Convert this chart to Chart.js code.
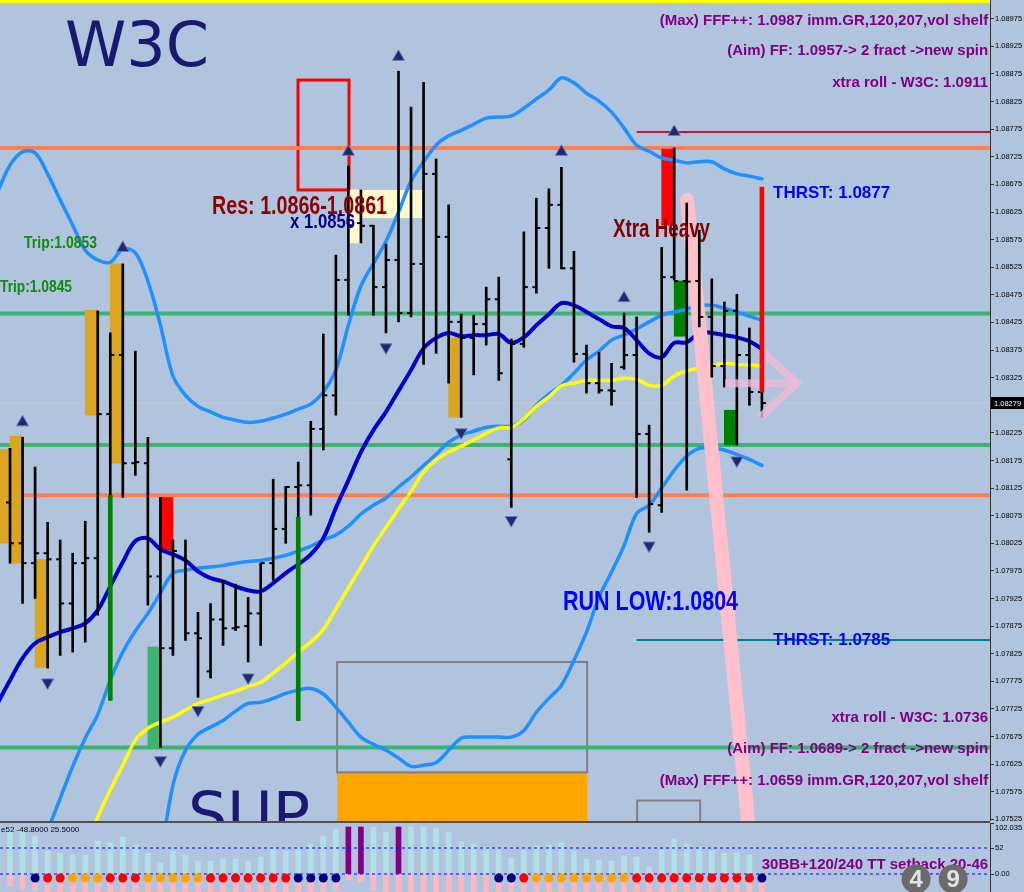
<!DOCTYPE html>
<html>
<head>
<meta charset="utf-8">
<title>W3C chart</title>
<script src="https://cdn.jsdelivr.net/npm/chart.js@4.4.1/dist/chart.umd.min.js"></script>
<style>
  html, body { margin: 0; padding: 0; background: #b0c4de; }
  #wrap { position: relative; width: 1024px; height: 892px; overflow: hidden; background: #b0c4de; }
  canvas { position: absolute; left: 0; }
  #main { top: 0; }
  #sub { top: 823px; }
  #sep { position: absolute; left: 0; top: 821px; width: 990px; height: 2px; background: #505050; }
  #topline { position: absolute; left: 0; top: 0; width: 990px; height: 3px; background: #ffff00; }
</style>
</head>
<body>
<div id="wrap">
  <canvas id="main" width="1024" height="821"></canvas>
  <div id="sep"></div>
  <canvas id="sub" width="1024" height="69"></canvas>
  <div id="topline"></div>
</div>
<script>
// every per-bar array starts at bar -1 (the one cut by the left edge)
const firstBar = -1;

const highs = [null, 1.08197, 1.08217, 1.08163, 1.08063, 1.08031, 1.08007, 1.08065, 1.08446, 1.08406, 1.08531,
  1.08373, 1.08217, 1.08108, 1.08031, 1.08031, 1.07900, 1.07916, 1.07958, 1.07951, 1.07927,
  1.07989, 1.08141, 1.08128, 1.08172, 1.08246, 1.08404, 1.08547, 1.08708, 1.08665, 1.08601,
  1.08567, 1.08880, 1.08815, 1.08860, 1.08721, 1.08638, 1.08440, 1.08438, 1.08489, 1.08507,
  1.08395, 1.08589, 1.08650, 1.08667, 1.08706, 1.08554, 1.08384, 1.08371, 1.08351, 1.08442,
  1.08435, 1.08239, 1.08561, 1.08741, 1.08641, 1.08592, 1.08504, 1.08462, 1.08476, 1.08415, 1.08299];
const lows = [null, 1.07989, 1.07916, 1.07925, 1.07799, 1.07822, 1.07828, 1.07846, 1.07895, 1.07741, 1.08108,
  1.08148, 1.07913, 1.07655, 1.07822, 1.07849, 1.07746, 1.07781, 1.07840, 1.07867, 1.07810,
  1.07840, 1.07958, 1.08025, 1.07704, 1.08076, 1.08194, 1.08257, 1.08438, 1.08569, 1.08438,
  1.08406, 1.08426, 1.08435, 1.08349, 1.08369, 1.08315, 1.08253, 1.08330, 1.08384, 1.08320,
  1.08090, 1.08380, 1.08478, 1.08523, 1.08522, 1.08353, 1.08297, 1.08297, 1.08275, 1.08340,
  1.08108, 1.08045, 1.08081, 1.08502, 1.08121, 1.08417, 1.08326, 1.08308, 1.08203, 1.08275, 1.08253];
const opens = [null, 1.08099, 1.08025, 1.07989, 1.08007, 1.07996, 1.07916, 1.07989, 1.07998, 1.08259, 1.08366,
  1.08170, 1.08170, 1.07965, 1.07835, 1.07996, 1.07862, 1.07793, 1.07887, 1.07871, 1.07875,
  1.07898, 1.07989, 1.08051, 1.08127, 1.08130, 1.08232, 1.08293, 1.08502, 1.08605, 1.08600,
  1.08489, 1.08538, 1.08442, 1.08531, 1.08694, 1.08580, 1.08426, 1.08397, 1.08422, 1.08467,
  1.08177, 1.08386, 1.08489, 1.08596, 1.08638, 1.08523, 1.08368, 1.08315, 1.08302, 1.08344,
  1.08366, 1.08223, 1.08094, 1.08507, 1.08500, 1.08500, 1.08435, 1.08346, 1.08446, 1.08366, 1.08299];
const closes = [null, 1.08025, 1.07989, 1.08007, 1.07996, 1.07916, 1.07989, 1.07998, 1.08259, 1.08366, 1.08170,
  1.08172, 1.07965, 1.07835, 1.08011, 1.07862, 1.07853, 1.07887, 1.07871, 1.07873, 1.07898,
  1.07989, 1.08051, 1.08127, 1.08130, 1.08232, 1.08293, 1.08502, 1.08601, 1.08600, 1.08489,
  1.08538, 1.08442, 1.08531, 1.08694, 1.08580, 1.08426, 1.08397, 1.08422, 1.08467, 1.08333,
  1.08386, 1.08489, 1.08596, 1.08638, 1.08523, 1.08368, 1.08315, 1.08302, 1.08301, 1.08366,
  1.08223, 1.08096, 1.08507, 1.08500, 1.08499, 1.08435, 1.08346, 1.08446, 1.08366, 1.08299, 1.08279];

// bands and averages
const bandUpper = [1.08661, 1.08710, 1.08734, 1.08732, 1.08694, 1.08647, 1.08601, 1.08556, 1.08538, 1.08534, 1.08558,
  1.08551, 1.08500, 1.08420, 1.08328, 1.08293, 1.08273, 1.08263, 1.08253, 1.08248, 1.08244,
  1.08246, 1.08252, 1.08259, 1.08268, 1.08277, 1.08299, 1.08339, 1.08420, 1.08491, 1.08532,
  1.08572, 1.08625, 1.08681, 1.08716, 1.08746, 1.08763, 1.08773, 1.08784, 1.08795, 1.08797,
  1.08799, 1.08813, 1.08830, 1.08846, 1.08868, 1.08859, 1.08840, 1.08826, 1.08806, 1.08777,
  1.08746, 1.08735, 1.08723, 1.08719, 1.08714, 1.08716, 1.08716, 1.08703, 1.08694, 1.08690, 1.08685];
const bandMid = [null, null, null, 1.07451, 1.07505, 1.07563, 1.07621, 1.07672, 1.07715, 1.07777, 1.07828,
  1.07866, 1.07898, 1.07935, 1.07971, 1.07976, 1.07980, 1.07982, 1.07985, 1.07989, 1.07992,
  1.07994, 1.07998, 1.08003, 1.08011, 1.08020, 1.08031, 1.08040, 1.08056, 1.08078, 1.08094,
  1.08107, 1.08127, 1.08145, 1.08166, 1.08186, 1.08208, 1.08221, 1.08228, 1.08235, 1.08237,
  1.08237, 1.08248, 1.08275, 1.08295, 1.08311, 1.08333, 1.08357, 1.08373, 1.08393, 1.08402,
  1.08413, 1.08426, 1.08438, 1.08444, 1.08449, 1.08456, 1.08456, 1.08451, 1.08444, 1.08436, 1.08429];
const bandLower = [null, null, null, null, null, null, null, null, null, null, null,
  null, null, 1.07451, 1.07587, 1.07650, 1.07679, 1.07692, 1.07704, 1.07721, 1.07735,
  1.07737, 1.07744, 1.07753, 1.07759, 1.07762, 1.07752, 1.07728, 1.07701, 1.07674, 1.07661,
  1.07650, 1.07636, 1.07621, 1.07623, 1.07628, 1.07650, 1.07672, 1.07674, 1.07674, 1.07674,
  1.07674, 1.07686, 1.07719, 1.07744, 1.07768, 1.07813, 1.07864, 1.07927, 1.07973, 1.08021,
  1.08079, 1.08094, 1.08125, 1.08157, 1.08183, 1.08197, 1.08197, 1.08194, 1.08186, 1.08177, 1.08166];
const maBlue = [1.07735, 1.07777, 1.07817, 1.07844, 1.07855, 1.07864, 1.07871, 1.07880, 1.07904, 1.07947, 1.07991,
  1.08029, 1.08034, 1.08014, 1.08005, 1.07994, 1.07974, 1.07962, 1.07956, 1.07947, 1.07940,
  1.07938, 1.07953, 1.07971, 1.07987, 1.08005, 1.08034, 1.08089, 1.08139, 1.08190, 1.08230,
  1.08263, 1.08301, 1.08339, 1.08378, 1.08397, 1.08406, 1.08400, 1.08402, 1.08402, 1.08404,
  1.08388, 1.08398, 1.08420, 1.08440, 1.08460, 1.08456, 1.08444, 1.08431, 1.08418, 1.08415,
  1.08393, 1.08369, 1.08362, 1.08388, 1.08389, 1.08406, 1.08406, 1.08402, 1.08398, 1.08391, 1.08377];
const maYellow = [null, null, null, null, null, null, null, 1.07469, 1.07529, 1.07578, 1.07623,
  1.07668, 1.07690, 1.07701, 1.07710, 1.07723, 1.07735, 1.07742, 1.07750, 1.07757, 1.07766,
  1.07773, 1.07790, 1.07808, 1.07828, 1.07846, 1.07869, 1.07906, 1.07944, 1.07982, 1.08020,
  1.08054, 1.08087, 1.08119, 1.08154, 1.08176, 1.08190, 1.08201, 1.08212, 1.08224, 1.08234,
  1.08235, 1.08250, 1.08273, 1.08290, 1.08310, 1.08315, 1.08320, 1.08320, 1.08320, 1.08324,
  1.08322, 1.08311, 1.08311, 1.08328, 1.08337, 1.08342, 1.08346, 1.08351, 1.08349, 1.08348, 1.08346];

// coloured volume blocks and spikes
const blockX = [-0.5, 0.5, 2.5, 6.5, 8.5, 11.5, 12.5, 27.5, 35.5, 52.5, 53.5, 57.5];
const blockTop = [1.08195, 1.08219, 1.07996, 1.08447, 1.08531, 1.07837, 1.08108, 1.08665, 1.08397, 1.08739, 1.08500, 1.08266];
const blockBottom = [1.08025, 1.07989, 1.07800, 1.08257, 1.08170, 1.07655, 1.08012, 1.08569, 1.08253, 1.08601, 1.08400, 1.08203];
const blockKind = ['gold', 'gold', 'gold', 'gold', 'gold', 'sea', 'red', 'cream', 'gold', 'red', 'green', 'green'];
const spikeX = [8, 23, 60];
const spikeTop = [1.08112, 1.08072, 1.08670];
const spikeBottom = [1.07741, 1.07704, 1.08299];
const spikeKind = ['green', 'green', 'red'];

// levels
const coralLevels = [1.08741, 1.08112];
const seaLevels = [1.08441, 1.08203, 1.07655];
const thrustLevels = [1.0877, 1.0785];
const thrustFrom = 50;

// fractals
const upFracX = [1, 9, 27, 31, 44, 49, 53];
const upFracY = [1.08244, 1.08560, 1.08734, 1.08906, 1.08734, 1.08469, 1.08770];
const downFracX = [3, 12, 15, 19, 30, 36, 40, 51, 58];
const downFracY = [1.07773, 1.07632, 1.07723, 1.07782, 1.08380, 1.08226, 1.08067, 1.08021, 1.08175];

// pink trend stroke and the arrow
const trendX = [54.03, 59.2];
const trendY = [1.08647, 1.07451];
const shaftX = [57.07, 62.8];
const shaftY = [1.08315, 1.08315];
const headX = [59.86, 62.8, 59.86];
const headY = [1.08375, 1.08315, 1.08253];

const priceTicks = [1.07525, 1.07575, 1.07625, 1.07675, 1.07725, 1.07775, 1.07825, 1.07875, 1.07925, 1.07975,
  1.08025, 1.08075, 1.08125, 1.08175, 1.08225, 1.08275, 1.08325, 1.08375, 1.08425, 1.08475,
  1.08525, 1.08575, 1.08625, 1.08675, 1.08725, 1.08775, 1.08825, 1.08875, 1.08925, 1.08975];

// lower panel
const histCyan = [90, 92, 88, 76, 46, 42, 38, 38, 66, 62, 74, 58, 42, 22, 46, 38, 26, 26, 30, 30, 26,
  34, 50, 46, 50, 60, 76, 90, null, null, 94, 84, null, 94, 94, 92, 84, 64, 60, 54, 50,
  32, 48, 56, 58, 62, 46, 30, 28, 26, 36, 34, 14, 48, 70, 60, 54, 46, 42, 42, 38, null];
const histPurple = [null, null, null, null, null, null, null, null, null, null, null, null, null, null, null, null, null, null, null, null, null,
  null, null, null, null, null, null, null, 94, 94, null, null, 94, null, null, null, null, null, null, null, null,
  null, null, null, null, null, null, null, null, null, null, null, null, null, null, null, null, null, null, null, null, null];
const histPink = [-22, -24, -30, -32, -40, -40, -40, -40, -40, -40, -40, -40, -40, -40, -40, -40, -40, -40, -40, -40, -40,
  -40, -40, -40, -40, -40, -40, -30, -12, -16, -32, -40, -40, -40, -40, -40, -40, -40, -40, -40, -40,
  -40, -40, -40, -40, -40, -40, -40, -40, -40, -40, -40, -40, -40, -40, -40, -40, -40, -40, -40, -40, -40];
const dotKind = ['', '', '', 'n', 'r', 'r', 'o', 'o', 'o', 'r', 'r', 'r', 'o', 'o', 'o', 'o', 'o',
  'r', 'r', 'r', 'r', 'r', 'r', 'r', 'n', 'n', 'n', 'n', '', '', '', '', '', '', '', '', '', '', '', '',
  'n', 'n', 'r', 'o', 'o', 'o', 'o', 'o', 'o', 'o', 'o', 'r', 'r', 'r', 'r', 'r', 'r', 'r', 'r', 'r', 'r', 'n'];
const dotLevel = -8;
const subLines = [52, 0];
const subTicks = [0, 52, 102.035];
const subTickLabels = ['0.00', '52', '102.035'];

const X_MIN = -0.8, X_MAX = 78.2;
const SUB_MAX = 102.035;
const barNo = highs.map((_, k) => k + firstBar);
const lastPrice = closes[closes.length - 1];

const blockColors = { gold: '#daa520', sea: '#3cb371', red: '#ff0000', cream: '#fffacd', green: '#008000' };
const dotColors = { n: '#000080', r: '#ff0000', o: '#ffa500' };

function pts(xs, ys, dx) {
    return ys.map((y, k) => ({ x: xs[k] + (dx || 0), y: y })).filter(p => p.y !== null);
}
function ranges(xs, tops, bottoms) {
    return tops.map((t, k) => (t === null ? null : { x: xs[k], y: [bottoms[k], t] })).filter(Boolean);
}
function flatLine(level, from, color, width, order, dash) {
    return {
        type: 'line', data: [{ x: from, y: level }, { x: X_MAX, y: level }],
        borderColor: color, borderWidth: width, pointRadius: 0, order: order, borderDash: dash || []
    };
}
function curve(values, color, width, order) {
    return {
        type: 'line', data: pts(barNo, values), borderColor: color, borderWidth: width,
        pointRadius: 0, tension: 0.35, order: order, borderJoinStyle: 'round', borderCapStyle: 'round'
    };
}

// boxes and labels drawn with the chart scales
const boxes = [
    { x0: 27.05, x1: 32.9, y0: 1.08665, y1: 1.08614, fill: '#fffacd' },
    { x0: 26.1, x1: 46.05, y0: 1.07610, y1: 1.07480, fill: '#ffa500' },
    { x0: 22.98, x1: 27.05, y0: 1.08864, y1: 1.08665, stroke: '#ff0000', lw: 3 },
    { x0: 26.1, x1: 46.05, y0: 1.07810, y1: 1.07610, stroke: '#808080', lw: 2 },
    { x0: 50.04, x1: 55.07, y0: 1.07559, y1: 1.07480, stroke: '#808080', lw: 2 }
];
// w = width the condensed labels are squeezed to
const notes = [
    { t: 'W3C', x: 4.39, y: 1.08889, font: '62px "DejaVu Sans"', c: '#191970', a: 'left' },
    { t: 'SUP', x: 14.2, y: 1.07494, font: '62px "DejaVu Sans"', c: '#191970', a: 'left' },
    { t: '(Max) FFF++: 1.0987 imm.GR,120,207,vol shelf', x: 78.05, y: 1.08964, font: 'bold 15px "Liberation Sans"', c: '#800080', a: 'right' },
    { t: '(Aim) FF: 1.0957-> 2 fract ->new spin', x: 78.05, y: 1.08909, font: 'bold 15px "Liberation Sans"', c: '#800080', a: 'right' },
    { t: 'xtra roll - W3C: 1.0911', x: 78.05, y: 1.08851, font: 'bold 15px "Liberation Sans"', c: '#800080', a: 'right' },
    { t: 'xtra roll - W3C: 1.0736', x: 78.05, y: 1.07701, font: 'bold 15px "Liberation Sans"', c: '#800080', a: 'right' },
    { t: '(Aim) FF: 1.0689-> 2 fract ->new spin', x: 78.05, y: 1.07645, font: 'bold 15px "Liberation Sans"', c: '#800080', a: 'right' },
    { t: '(Max) FFF++: 1.0659 imm.GR,120,207,vol shelf', x: 78.05, y: 1.07587, font: 'bold 15px "Liberation Sans"', c: '#800080', a: 'right' },
    { t: 'THRST: 1.0877', x: 60.89, y: 1.08650, font: 'bold 17px "Liberation Sans"', c: '#0000ff', a: 'left' },
    { t: 'THRST: 1.0785', x: 60.89, y: 1.07840, font: 'bold 17px "Liberation Sans"', c: '#0000ff', a: 'left' },
    { t: 'Res: 1.0866-1.0861', x: 16.12, y: 1.08621, font: 'bold 25px "Liberation Sans"', c: '#8b0000', a: 'left', w: 175 },
    { t: 'x 1.0856', x: 22.35, y: 1.08596, font: 'bold 21px "Liberation Sans"', c: '#00008b', a: 'left', w: 65 },
    { t: 'Trip:1.0853', x: 1.12, y: 1.08560, font: 'bold 17px "Liberation Sans"', c: '#108a10', a: 'left', w: 73 },
    { t: 'Trip:1.0845', x: -0.8, y: 1.08480, font: 'bold 17px "Liberation Sans"', c: '#108a10', a: 'left', w: 72 },
    { t: 'Xtra Heavy', x: 48.12, y: 1.08580, font: 'bold 25px "Liberation Sans"', c: '#800000', a: 'left', w: 97 },
    { t: 'RUN LOW:1.0804', x: 44.13, y: 1.07904, font: 'bold 28px "Liberation Sans"', c: '#0000ff', a: 'left', w: 175 }
];

const mainDecor = {
    id: 'mainDecor',
    beforeDatasetsDraw(chart) {
        const { ctx, scales: { x, y } } = chart;
        ctx.save();
        boxes.forEach(b => {
            const l = x.getPixelForValue(b.x0), r = x.getPixelForValue(b.x1);
            const t = y.getPixelForValue(b.y0), btm = y.getPixelForValue(b.y1);
            if (b.fill) { ctx.fillStyle = b.fill; ctx.fillRect(l, t, r - l, btm - t); }
            if (b.stroke) { ctx.strokeStyle = b.stroke; ctx.lineWidth = b.lw; ctx.strokeRect(l, t, r - l, btm - t); }
        });
        ctx.restore();
    },
    afterDatasetsDraw(chart) {
        const { ctx, scales: { x, y } } = chart;
        notes.forEach(n => {
            ctx.save();
            ctx.textBaseline = 'alphabetic';
            ctx.font = n.font;
            ctx.fillStyle = n.c;
            ctx.textAlign = n.a;
            const px = x.getPixelForValue(n.x), py = y.getPixelForValue(n.y);
            if (n.w) {
                // condensed face: squeeze horizontally
                const sx = n.w / ctx.measureText(n.t).width;
                ctx.translate(px, py);
                ctx.scale(sx, 1);
                ctx.fillText(n.t, 0, 0);
            } else {
                ctx.fillText(n.t, px, py);
            }
            ctx.restore();
        });
    },
    afterDraw(chart) {
        const { ctx, scales: { y } } = chart;
        const py = Math.round(y.getPixelForValue(lastPrice));
        ctx.save();
        ctx.fillStyle = '#000';
        ctx.fillRect(991, py - 6, 33, 12);
        ctx.fillStyle = '#fff';
        ctx.font = '7.5px "Liberation Sans"';
        ctx.textAlign = 'left';
        ctx.textBaseline = 'middle';
        ctx.fillText(lastPrice.toFixed(5), 994, py + 0.5);
        ctx.restore();
    }
};

const mainSets = [];
coralLevels.forEach(v => mainSets.push(flatLine(v, X_MIN, '#ff7f50', 4, 100)));
seaLevels.forEach(v => mainSets.push(flatLine(v, X_MIN, '#3cb371', 4, 100)));
mainSets.push(flatLine(thrustLevels[0], thrustFrom, '#c8143c', 2, 99));
mainSets.push(flatLine(thrustLevels[1], thrustFrom, '#00808f', 2, 99));
mainSets.push(flatLine(lastPrice, X_MIN, 'rgba(205,205,205,0.8)', 1, 98));
mainSets.push({
    type: 'bar', data: ranges(blockX, blockTop, blockBottom),
    backgroundColor: blockKind.map(k => blockColors[k]), barThickness: 12.5, grouped: false, order: 80
});
mainSets.push(curve(bandUpper, '#1e90ff', 3.5, 62));
mainSets.push(curve(bandMid, '#1e90ff', 3.5, 62));
mainSets.push(curve(bandLower, '#1e90ff', 3.5, 62));
mainSets.push(curve(maYellow, '#ffff00', 3.5, 61));
mainSets.push(curve(maBlue, '#0000cd', 4, 60));
mainSets.push({
    type: 'line', data: pts(trendX, trendY), borderColor: '#ffc0cb', borderWidth: 14,
    borderCapStyle: 'round', pointRadius: 0, order: 55
});
mainSets.push({
    type: 'bar', data: ranges(barNo, highs, lows), backgroundColor: '#000',
    barThickness: 2, grouped: false, order: 50
});
mainSets.push({
    type: 'line', data: pts(barNo, opens, -0.16), showLine: false, pointStyle: 'line',
    pointRadius: 2, pointBorderWidth: 2, pointBorderColor: '#000', order: 49
});
mainSets.push({
    type: 'line', data: pts(barNo, closes, 0.16), showLine: false, pointStyle: 'line',
    pointRadius: 2, pointBorderWidth: 2, pointBorderColor: '#000', order: 49
});
mainSets.push({
    type: 'line', data: pts(shaftX, shaftY), borderColor: 'rgba(236,186,216,0.8)', borderWidth: 8,
    pointRadius: 0, order: 46
});
mainSets.push({
    type: 'line', data: pts(headX, headY), borderColor: 'rgba(236,186,216,0.8)', borderWidth: 8,
    pointRadius: 0, order: 46
});
mainSets.push({
    type: 'bar', data: ranges(spikeX, spikeTop, spikeBottom),
    backgroundColor: spikeKind.map(k => blockColors[k]), barThickness: 4, grouped: false, order: 45
});
mainSets.push({
    type: 'line', data: pts(upFracX, upFracY), showLine: false, pointStyle: 'triangle', pointRadius: 7,
    pointBackgroundColor: '#1f2a6b', pointBorderColor: '#6c78b8', pointBorderWidth: 1, order: 40
});
mainSets.push({
    type: 'line', data: pts(downFracX, downFracY), showLine: false, pointStyle: 'triangle', pointRadius: 7,
    pointRotation: 180, pointBackgroundColor: '#1f2a6b', pointBorderColor: '#6c78b8', pointBorderWidth: 1, order: 40
});

const xAxis = { type: 'linear', display: false, min: X_MIN, max: X_MAX, offset: false, grid: { offset: false } };

new Chart(document.getElementById('main').getContext('2d'), {
    type: 'line',
    data: { datasets: mainSets },
    options: {
        responsive: false, animation: false, devicePixelRatio: 1, events: [],
        layout: { padding: 0, autoPadding: false },
        plugins: { legend: { display: false }, tooltip: { enabled: false } },
        scales: {
            x: xAxis,
            y: {
                position: 'right', min: 1.07522, max: 1.09009,
                afterBuildTicks: ax => { ax.ticks = priceTicks.map(v => ({ value: v })); },
                afterFit: ax => { ax.width = 34; ax.paddingTop = 0; ax.paddingBottom = 0; },
                ticks: { callback: v => v.toFixed(5), font: { family: 'Liberation Sans', size: 7.5 }, color: '#000', padding: 1 },
                grid: { drawOnChartArea: false, drawTicks: true, tickLength: 4, color: '#333' },
                border: { display: true, color: '#333', width: 1 }
            }
        }
    },
    plugins: [mainDecor]
});

// lower oscillator panel
const subDecor = {
    id: 'subDecor',
    afterDatasetsDraw(chart) {
        const { ctx, scales: { x, y } } = chart;
        ctx.save();
        ctx.font = '8px "Liberation Sans"';
        ctx.fillStyle = '#000';
        ctx.textAlign = 'left';
        ctx.textBaseline = 'alphabetic';
        ctx.fillText('e52 -48.8000 25.5000', x.getPixelForValue(X_MIN) + 1, y.getPixelForValue(84));
        ctx.font = 'bold 15px "Liberation Sans"';
        ctx.fillStyle = '#800080';
        ctx.textAlign = 'right';
        ctx.fillText('30BB+120/240 TT setback 20-46', x.getPixelForValue(78.05), y.getPixelForValue(10));
        [['4', 72.3], ['9', 75.26]].forEach(([d, bx]) => {
            const cx = x.getPixelForValue(bx), cy = y.getPixelForValue(-10);
            ctx.beginPath();
            ctx.arc(cx, cy, 14.5, 0, Math.PI * 2);
            ctx.fillStyle = '#6b6b6b';
            ctx.fill();
            ctx.font = 'bold 24px "Liberation Sans"';
            ctx.fillStyle = '#e4e4e4';
            ctx.textAlign = 'center';
            ctx.textBaseline = 'middle';
            ctx.fillText(d, cx, cy + 1);
        });
        ctx.restore();
    },
    afterDraw(chart) {
        // top value sits just under its tick, as the terminal prints it
        const { ctx, scales: { y } } = chart;
        ctx.save();
        ctx.font = '7.5px "Liberation Sans"';
        ctx.fillStyle = '#000';
        ctx.textAlign = 'left';
        ctx.textBaseline = 'top';
        ctx.fillText(subTickLabels[subTicks.indexOf(SUB_MAX)], y.left + 5, y.getPixelForValue(SUB_MAX) + 1);
        ctx.restore();
    }
};

const subSets = [
    { type: 'bar', data: pts(barNo, histPink), backgroundColor: '#ffb6c1', barThickness: 5, grouped: false, order: 10 },
    { type: 'bar', data: pts(barNo, histCyan), backgroundColor: '#b0e0e6', barThickness: 5, grouped: false, order: 9 },
    { type: 'bar', data: pts(barNo, histPurple), backgroundColor: '#800080', barThickness: 5, grouped: false, order: 8 }
];
subLines.forEach(v => subSets.push(flatLine(v, X_MIN, '#0000ff', 1, 5, [3, 3])));
const dotPts = barNo.map((b, k) => ({ x: b, y: dotKind[k] ? dotLevel : null, c: dotColors[dotKind[k]] })).filter(p => p.y !== null);
subSets.push({
    type: 'line', data: dotPts, showLine: false, pointRadius: 4.5, pointBorderWidth: 0,
    pointBackgroundColor: dotPts.map(p => p.c), order: 1
});

new Chart(document.getElementById('sub').getContext('2d'), {
    type: 'line',
    data: { datasets: subSets },
    options: {
        responsive: false, animation: false, devicePixelRatio: 1, events: [],
        layout: { padding: 0, autoPadding: false },
        plugins: { legend: { display: false }, tooltip: { enabled: false } },
        scales: {
            x: xAxis,
            y: {
                position: 'right', min: -36, max: SUB_MAX,
                afterBuildTicks: ax => { ax.ticks = subTicks.map(v => ({ value: v })); },
                afterFit: ax => { ax.width = 34; ax.paddingTop = 0; ax.paddingBottom = 0; },
                ticks: {
                    callback: v => (v === SUB_MAX ? '' : subTickLabels[subTicks.indexOf(v)]),
                    font: { family: 'Liberation Sans', size: 7.5 }, color: '#000', padding: 1
                },
                grid: { drawOnChartArea: false, drawTicks: true, tickLength: 4, color: '#333' },
                border: { display: true, color: '#333', width: 1 }
            }
        }
    },
    plugins: [subDecor]
});
</script>
</body>
</html>
